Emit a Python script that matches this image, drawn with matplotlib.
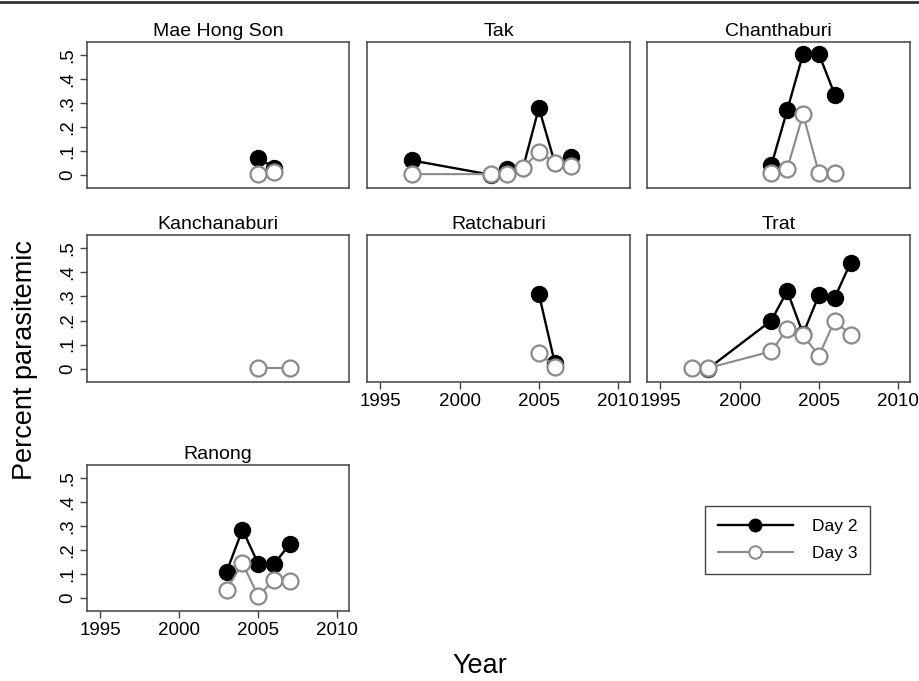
import matplotlib.pyplot as plt
from matplotlib.lines import Line2D

plt.rcParams['font.family'] = ['Liberation Sans', 'DejaVu Sans']

# provincias y datos (proporción de parasitemia)
provincias = ["Mae Hong Son", "Tak", "Chanthaburi",
              "Kanchanaburi", "Ratchaburi", "Trat", "Ranong"]

anios_d2 = {
    "Mae Hong Son": [2005, 2006],
    "Tak": [1997, 2002, 2003, 2004, 2005, 2006, 2007],
    "Chanthaburi": [2002, 2003, 2004, 2005, 2006],
    "Kanchanaburi": [],
    "Ratchaburi": [2005, 2006],
    "Trat": [1998, 2002, 2003, 2004, 2005, 2006, 2007],
    "Ranong": [2003, 2004, 2005, 2006, 2007],
}
dia2 = {
    "Mae Hong Son": [0.07, 0.03],
    "Tak": [0.06, 0.0, 0.025, 0.03, 0.28, 0.05, 0.075],
    "Chanthaburi": [0.04, 0.27, 0.505, 0.505, 0.335],
    "Kanchanaburi": [],
    "Ratchaburi": [0.31, 0.025],
    "Trat": [0.0, 0.2, 0.323, 0.145, 0.305, 0.295, 0.44],
    "Ranong": [0.11, 0.285, 0.142, 0.142, 0.224],
}
anios_d3 = {
    "Mae Hong Son": [2005, 2006],
    "Tak": [1997, 2002, 2003, 2004, 2005, 2006, 2007],
    "Chanthaburi": [2002, 2003, 2004, 2005, 2006],
    "Kanchanaburi": [2005, 2007],
    "Ratchaburi": [2005, 2006],
    "Trat": [1997, 1998, 2002, 2003, 2004, 2005, 2006, 2007],
    "Ranong": [2003, 2004, 2005, 2006, 2007],
}
dia3 = {
    "Mae Hong Son": [0.005, 0.01],
    "Tak": [0.003, 0.003, 0.005, 0.03, 0.095, 0.05, 0.038],
    "Chanthaburi": [0.007, 0.025, 0.253, 0.007, 0.007],
    "Kanchanaburi": [0.003, 0.003],
    "Ratchaburi": [0.066, 0.008],
    "Trat": [0.003, 0.003, 0.072, 0.166, 0.139, 0.054, 0.2, 0.139],
    "Ranong": [0.034, 0.145, 0.007, 0.076, 0.071],
}

ticks_x = [1995, 2000, 2005, 2010]
ticks_y = [0, 0.1, 0.2, 0.3, 0.4, 0.5]
etiquetas_y = ["0", ".1", ".2", ".3", ".4", ".5"]

W, H = 920, 681
fig = plt.figure(figsize=(W / 100, H / 100), dpi=100)

columnas = [(87, 349), (367, 630), (647, 910)]
filas = [(42, 188), (235, 382), (465, 611)]

gris = "#8a8a8a"
borde = "#444444"

for k, prov in enumerate(provincias):
    fila, col = divmod(k, 3)
    x0, x1 = columnas[col]
    y0, y1 = filas[fila]
    ax = fig.add_axes([x0 / W, 1 - y1 / H, (x1 - x0) / W, (y1 - y0) / H])

    if anios_d2[prov]:
        ax.plot(anios_d2[prov], dia2[prov], color="black", lw=1.7,
                marker="o", ms=11.5, mfc="black", mec="black", zorder=2)
    ax.plot(anios_d3[prov], dia3[prov], color=gris, lw=1.5,
            marker="o", ms=11.5, mfc="white", mec=gris, mew=1.6, zorder=3)

    ax.set_xlim(1994.15, 2010.75)
    ax.set_ylim(-0.055, 0.555)
    ax.set_title(prov, fontsize=14, pad=4)

    for s in ax.spines.values():
        s.set_color(borde)
        s.set_linewidth(1.1)

    # ejes x solo en el panel inferior de cada columna
    abajo = prov in ("Ratchaburi", "Trat", "Ranong")
    if abajo:
        ax.set_xticks(ticks_x)
        ax.tick_params(axis="x", direction="out", length=5, width=1,
                       color=borde, labelsize=13.5, pad=3)
    else:
        ax.set_xticks([])

    if col == 0:
        ax.set_yticks(ticks_y)
        ax.set_yticklabels(etiquetas_y, rotation=90, va="center")
        ax.tick_params(axis="y", direction="out", length=5, width=1,
                       color=borde, labelsize=13.5, pad=3)
    else:
        ax.set_yticks([])

fig.text(25 / W, 1 - 360 / H, "Percent parasitemic", rotation=90,
         ha="center", va="center", fontsize=19.5)
fig.text(480 / W, 1 - 666 / H, "Year", ha="center", va="center",
         fontsize=19.5)

# leyenda
h2 = Line2D([], [], color="black", lw=1.7, marker="o", ms=9,
            mfc="black", mec="black")
h3 = Line2D([], [], color=gris, lw=1.5, marker="o", ms=9,
            mfc="white", mec=gris, mew=1.4)
leg = fig.legend([h2, h3], ["Day 2", "Day 3"], loc="upper left",
                 bbox_to_anchor=(705 / W, 1 - 506 / H), fontsize=12.5,
                 handlelength=4.3, fancybox=False, framealpha=1,
                 edgecolor=borde, borderpad=0.75, labelspacing=0.65,
                 handletextpad=1.1, borderaxespad=0)
leg.get_frame().set_linewidth(1.0)

# línea superior del marco
fig.add_artist(Line2D([0, 1], [1 - 1.5 / H, 1 - 1.5 / H], color="#333333",
                      lw=2, transform=fig.transFigure))

plt.savefig("out.png", dpi=100)
